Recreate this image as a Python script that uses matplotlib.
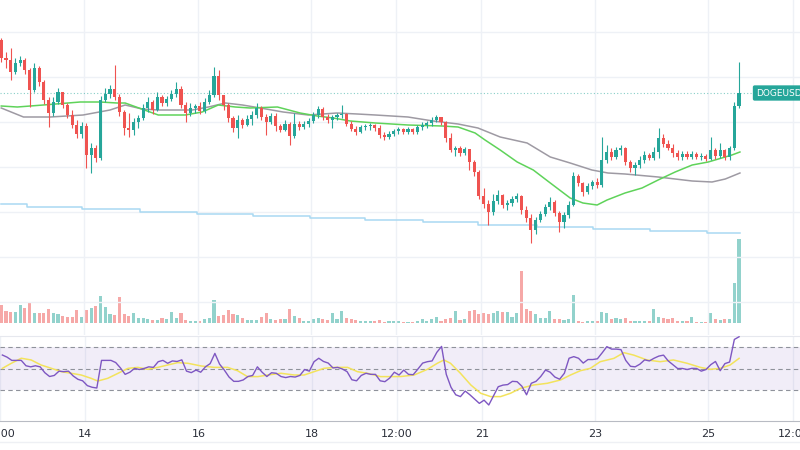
import numpy as np
import matplotlib.pyplot as plt
from matplotlib.lines import Line2D
from matplotlib import transforms

# DOGEUSD, 2h candles, first candle on the 12th at 13:00
start_day = 12 + 13 / 24.0
first_open = 360

close = [342, 340, 328, 337, 340, 330, 310, 332, 318, 300,
         287, 298, 308, 295, 285, 275, 266, 274, 245, 252,
         242, 300, 306, 311, 303, 288, 272, 270, 278, 282,
         292, 298, 290, 303, 297, 301, 306, 311, 295, 287,
         292, 294, 289, 298, 305, 324, 305, 295, 282, 272,
         280, 275, 281, 285, 292, 283, 278, 284, 274, 270,
         276, 264, 276, 273, 276, 279, 285, 291, 283, 280,
         283, 285, 286, 276, 271, 268, 273, 274, 275, 272,
         265, 263, 266, 269, 271, 268, 271, 268, 273, 275,
         277, 280, 283, 278, 262, 250, 252, 247, 251, 238,
         228, 204, 196, 188, 199, 205, 195, 197, 201, 204,
         190, 182, 170, 180, 186, 193, 198, 187, 178, 185,
         195, 224, 217, 208, 214, 218, 215, 240, 248, 243,
         250, 252, 238, 232, 235, 240, 245, 242, 248, 262,
         256, 252, 247, 243, 246, 243, 246, 243, 244, 241,
         250, 244, 250, 243, 252, 294, 307]

high = [362, 348, 352, 342, 344, 342, 332, 337, 334, 320,
        303, 303, 312, 308, 297, 290, 280, 278, 277, 257,
        255, 304, 312, 315, 335, 306, 290, 287, 282, 285,
        296, 303, 300, 308, 305, 304, 310, 318, 314, 298,
        297, 296, 298, 302, 310, 333, 330, 305, 297, 284,
        285, 282, 285, 289, 297, 294, 286, 287, 287, 276,
        280, 278, 287, 279, 279, 282, 288, 294, 293, 286,
        285, 287, 295, 287, 279, 274, 275, 276, 277, 276,
        275, 268, 269, 271, 273, 272, 273, 272, 275, 278,
        279, 283, 285, 283, 279, 267, 254, 254, 253, 251,
        240, 230, 212, 200, 206, 210, 206, 200, 204, 207,
        205, 194, 186, 183, 189, 196, 203, 200, 189, 188,
        199, 228, 226, 218, 217, 220, 222, 263, 255, 252,
        253, 255, 253, 240, 238, 244, 249, 247, 253, 272,
        266, 260, 256, 250, 249, 249, 249, 248, 247, 246,
        263, 252, 257, 251, 254, 298, 338]

low = [338, 332, 320, 326, 334, 326, 293, 308, 314, 296,
       273, 284, 296, 292, 282, 272, 262, 262, 232, 227,
       238, 240, 298, 302, 300, 284, 265, 263, 265, 272,
       280, 288, 286, 289, 294, 294, 299, 303, 292, 278,
       284, 287, 286, 287, 296, 303, 300, 290, 278, 268,
       262, 272, 274, 275, 282, 280, 265, 276, 269, 268,
       269, 255, 262, 270, 271, 273, 277, 282, 280, 277,
       272, 280, 282, 274, 269, 265, 267, 270, 270, 269,
       262, 260, 261, 264, 266, 266, 266, 266, 266, 270,
       272, 274, 278, 275, 258, 248, 244, 244, 245, 230,
       224, 201, 192, 175, 185, 196, 192, 190, 194, 198,
       186, 178, 157, 166, 178, 184, 190, 184, 168, 172,
       182, 194, 214, 204, 206, 211, 212, 213, 237, 240,
       241, 245, 235, 228, 225, 232, 237, 240, 240, 242,
       253, 250, 243, 240, 240, 241, 241, 241, 240, 239,
       240, 241, 242, 240, 240, 250, 292]

volume = [18, 12, 11, 11, 18, 15, 21, 10, 10, 10,
          14, 10, 9, 7, 6, 6, 13, 6, 13, 15,
          17, 27, 16, 9, 8, 26, 9, 7, 10, 5,
          5, 4, 3, 3, 5, 4, 11, 5, 10, 3,
          2, 2, 2, 4, 5, 23, 7, 8, 13, 9,
          8, 5, 3, 3, 3, 6, 10, 4, 3, 4,
          4, 14, 7, 5, 2, 2, 4, 5, 4, 3,
          10, 4, 12, 5, 4, 3, 2, 2, 2, 2,
          3, 1, 2, 2, 2, 1, 1, 1, 2, 4,
          2, 4, 6, 2, 4, 5, 12, 3, 4, 12,
          13, 9, 10, 9, 10, 12, 11, 11, 6, 10,
          52, 14, 12, 9, 5, 5, 12, 4, 4, 3,
          4, 28, 2, 1, 2, 2, 2, 11, 10, 4,
          5, 4, 5, 2, 2, 2, 2, 2, 14, 6,
          5, 4, 5, 2, 2, 2, 6, 1, 1, 1,
          10, 4, 3, 4, 4, 40, 84]

rsi = [63, 61, 58, 58, 58, 53, 52, 53, 52, 46.5,
       43, 44, 48, 47.5, 48, 43.5, 40.4, 39, 34.5, 33,
       32.3, 58, 58, 58, 56, 51, 45, 47, 50.6, 49.5,
       50.5, 52, 51.5, 56.8, 58, 55.3, 57.5, 57, 58.5, 48,
       46.6, 49, 47, 52, 55, 64.5, 54.5, 49, 42.5, 38.5,
       38.5, 39.8, 43, 44, 52, 47, 43, 46.5, 46, 43,
       42, 43, 42.5, 44, 49.5, 48, 56.8, 60, 57, 55.5,
       51, 51.5, 50, 47.5, 40, 39, 44, 46, 45, 45,
       39, 38.2, 41.5, 47, 44.4, 49, 45, 44.7, 50, 55.5,
       56.8, 57.5, 65.5, 71, 45, 33, 26, 24.3, 29.5, 26,
       22, 18, 21, 16.5, 25, 33.5, 35, 35.5, 38.5, 38.2,
       34, 26, 36.7, 38.5, 43, 49, 47, 42.5, 40.5, 46,
       60, 61.5, 60, 55.5, 58.8, 58.8, 59.5, 65, 70.8, 68.5,
       68.5, 68, 58, 52.5, 52, 54.5, 58.5, 57.5, 60, 62,
       62.9, 57.5, 54, 50.4, 50.5, 49.5, 50.6, 50.5, 48, 49.5,
       54, 57, 48.4, 55, 56.5, 77.5, 80]

# overlay lines, positions in candle index
rsi_ma_at = [0, 1.9, 4.0, 6.1, 8.2, 10.4, 12.5, 14.6, 16.7, 18.8, 20.2, 22.3,
             24.5, 26.6, 28.7, 30.8, 32.9, 35, 37.1, 39.3, 42.1, 44.9, 47.7,
             49.8, 51.9, 54.1, 56.2, 59, 61.8, 63.9, 66, 68.1, 70.3, 73.1,
             75.2, 77.3, 80.1, 82.2, 84.4, 87.2, 90, 92.1, 93.5, 94.9, 97,
             99.2, 101.3, 103.4, 105.5, 107.6, 109.7, 112.5, 115.4, 118.2,
             120.3, 122.4, 124.5, 126.6, 129.5, 131.6, 133.7, 136.5, 139.3,
             142.1, 145, 147.8, 149.9, 152, 154.1, 156]
rsi_ma = [50.6, 55.3, 60, 58.4, 53.7, 50.6, 47.5, 46, 44.4, 41.3, 38.8, 41.3,
          46, 50.6, 51.5, 49.7, 51.5, 53.7, 55.9, 55.3, 52.8, 51.5, 51.5,
          48.4, 42.9, 42.9, 44.4, 46, 44.4, 44.4, 47.5, 50.6, 51.5, 51.5,
          47.5, 46, 42.9, 42.9, 43, 44.4, 49.7, 55.3, 58.4, 55.3, 46,
          35.1, 27.4, 24.3, 24.3, 27.4, 32, 35.1, 36.7, 39.8,
          44.4, 48.4, 50.6, 56.8, 59.9, 65.2, 62.9, 58.4, 56.8,
          58.4, 55.3, 51.5, 49.7, 50.6, 53.7, 59.9]

green_ma_at = [0, 3.4, 8.9, 16.7, 20.9, 24.5, 26.2, 33.2, 38.9, 42.5, 45.9,
               49.5, 52.6, 58.4, 63.2, 66.8, 70.2, 73.8, 79.1, 86, 93.2,
               96.6, 100.2, 102.3, 105.5, 109.1, 112.5, 116.1, 120.3, 123,
               126, 128.1, 131.9, 135.5, 138.9, 142.5, 146.1, 149.5, 154.5,
               156.2]
green_ma = [294, 293, 295, 298, 298, 297, 297, 285, 285, 288, 295,
            293, 292, 293, 287, 284, 282, 279, 277, 275, 274,
            273, 267, 260, 250, 238, 230, 217, 202, 197,
            195, 200, 207, 212, 220, 228, 235, 238, 245, 248]

gray_ma_at = [0, 4.7, 10.4, 17.3, 23, 26.2, 29.8, 33.2, 40.4, 43.8, 47.4,
              51, 54.8, 59.6, 64.9, 71, 75.3, 79.1, 86, 91.3, 96.6, 100.8,
              105.5, 111.2, 116.1, 120.3, 124.9, 128.3, 131.9, 138.9, 146.1,
              150.3, 153.1, 156.2]
gray_ma = [292, 283, 283, 285, 290, 295, 291, 290, 290, 293, 297,
           295, 292, 288, 285, 287, 286, 285, 283, 279, 276, 272,
           263, 257, 243, 237, 230, 227, 226, 223, 219,
           218, 221, 227]

blue_at = [0, 5.5, 17.1, 29.4, 41.4, 53.3, 65.3, 77, 89.2, 100.8, 113.3,
           125.2, 137.2, 149.3, 156.2]
blue = [196, 193, 191, 188, 186, 184, 182, 180, 178, 175, 173,
        171, 169, 167, 167]

tick_days = [12.5, 14, 16, 18, 19.5, 21, 23, 25, 26.5]
tick_labels = ['12:00', '14', '16', '18', '12:00', '21', '23', '25', '12:00']

price_grid = [368, 323, 278, 233, 188, 143, 98]

teal = '#26a69a'
red = '#ef5350'
grid_c = '#eef1f6'


def to_day(idx):
    return start_day + np.asarray(idx, dtype=float) / 12.0


n = len(close)
t = to_day(np.arange(n))
c = np.array(close, dtype=float)
o = np.concatenate([[first_open], c[:-1]])
up = c >= o
cols = np.where(up, teal, red)

x_left, x_right = 12.5198, 26.6167

fig = plt.figure(figsize=(8, 4.5), dpi=100)
fig.patch.set_facecolor('white')

# volume overlay at the bottom of the price pane
axv = fig.add_axes([0, 127 / 450, 1, 100 / 450])
axv.set_facecolor('none')
axv.bar(t, volume, width=0.055, color=cols, alpha=0.5, linewidth=0)
axv.set_xlim(x_left, x_right)
axv.set_ylim(0, 100)
axv.axis('off')

# price pane
ax = fig.add_axes([0, 115 / 450, 1, 335 / 450])
ax.set_facecolor('none')
ax.set_xlim(x_left, x_right)
ax.set_ylim(65, 400)
for yv in price_grid:
    ax.axhline(yv, color=grid_c, lw=1, zorder=0)
for d in tick_days:
    ax.axvline(d, color=grid_c, lw=1, zorder=0)

ax.step(to_day(blue_at), blue, where='post', color='#a9d9f2', lw=1.1, zorder=1)
ax.plot(to_day(gray_ma_at), gray_ma, color='#9e9aa3', lw=1.1, zorder=2)
ax.plot(to_day(green_ma_at), green_ma, color='#5fd35a', lw=1.1, zorder=2)

ax.vlines(t, low, high, colors=cols, lw=0.8, zorder=3)
body_lo = np.minimum(o, c)
body_h = np.maximum(np.abs(c - o), 0.8)
ax.bar(t, body_h, bottom=body_lo, width=0.055, color=cols, linewidth=0, zorder=4)

ax.axhline(c[-1], color=teal, lw=0.8, ls=(0, (1, 2)), alpha=0.55, zorder=1)
blend = transforms.blended_transform_factory(ax.transAxes, ax.transData)
ax.text(0.9735, c[-1], 'DOGEUSD', transform=blend, ha='center', va='center',
        color='white', fontsize=6.5, zorder=6,
        bbox=dict(boxstyle='round,pad=0.35,rounding_size=0.2', fc=teal, ec='none'))
ax.axis('off')

# RSI pane
axr = fig.add_axes([0, 29 / 450, 1, 85 / 450])
axr.set_xlim(x_left, x_right)
axr.set_ylim(1.6, 80.7)
for d in tick_days:
    axr.axvline(d, color=grid_c, lw=1, zorder=0)
axr.axhspan(30, 70, color='#7e57c2', alpha=0.1, lw=0, zorder=0)
for lv in (30, 50, 70):
    axr.axhline(lv, color='#8f929b', lw=0.8, ls=(0, (4, 3)), zorder=1)
axr.plot(to_day(rsi_ma_at), rsi_ma, color='#f3e35c', lw=1.1, zorder=2)
axr.plot(t, rsi, color='#7e57c2', lw=1.0, zorder=3)

for side in ('left', 'right'):
    axr.spines[side].set_visible(False)
axr.spines['top'].set_color('#e6e8ee')
axr.spines['bottom'].set_color('#b8bbc3')
axr.set_yticks([])
axr.set_xticks(tick_days)
axr.set_xticklabels(tick_labels, fontsize=8, color='#2a2e39')
axr.tick_params(axis='x', length=0, pad=6)

fig.add_artist(Line2D([0, 1], [8 / 450, 8 / 450], color='#eef0f4', lw=1))

fig.savefig('out.png', dpi=100, facecolor='white')
